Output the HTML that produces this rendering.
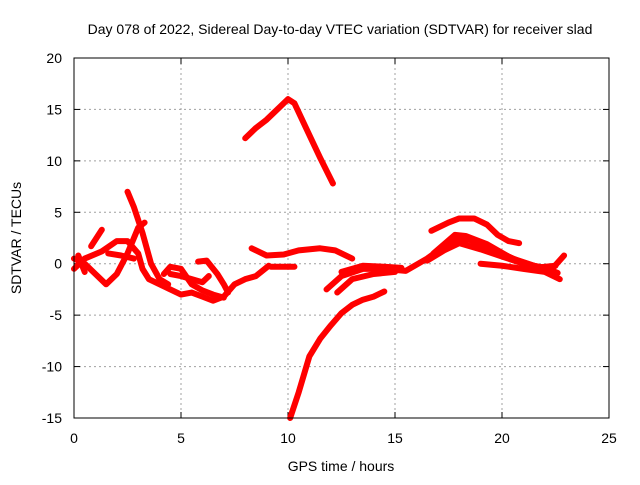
<!DOCTYPE html>
<html><head><meta charset="utf-8"><style>
body{margin:0;background:#fff;font-family:"Liberation Sans",sans-serif}
svg text{font-family:"Liberation Sans",sans-serif;font-size:14px;fill:#000}
</style></head><body>
<svg id="c" width="640" height="480">
<text x="340" y="34" text-anchor="middle">Day 078 of 2022, Sidereal Day-to-day VTEC variation (SDTVAR) for receiver slad</text>
<text x="341" y="471" text-anchor="middle">GPS time / hours</text>
<text transform="translate(21,238) rotate(-90)" text-anchor="middle">SDTVAR / TECUs</text>
<g id="grid"></g><g id="ticks"></g><g id="series"></g>
<rect x="74" y="58" width="535" height="360" fill="none" stroke="#000" stroke-width="1"/>
</svg>
<script>
const xTicks=[0,5,10,15,20,25];
const yTicks=[-15,-10,-5,0,5,10,15,20];
const s1=[[8.0,12.2],[8.5,13.2],[9,14],[9.5,15],[10,16],[10.3,15.6],[11,12.5],[11.5,10.3],[12.1,7.8]];
const s2=[[10.1,-15],[10.5,-12.5],[11,-9],[11.5,-7.3],[12,-6],[12.5,-4.8],[13,-4],[13.5,-3.5],[14,-3.2],[14.5,-2.7]];
const s3=[[16.7,3.2],[17.5,4],[18,4.4],[18.7,4.4],[19.3,3.8],[19.8,2.8],[20.3,2.2],[20.8,2]];
const s4=[[11.8,-2.5],[12.5,-1.2],[13.5,-0.5],[14.5,-0.5],[15.5,-0.7],[16.5,0.5],[17.3,1.7],[18,2.4],[18.5,2.3],[19.5,1.5],[20.5,0.5],[21.5,-0.2],[22.3,-0.6],[22.9,0.8]];
const s5=[[12.3,-2.8],[13,-1.5],[14,-1],[15,-0.8]];
const s6=[[19,0],[20,-0.2],[21,-0.5],[22,-0.8],[22.7,-1.5]];
const s7=[[8.3,1.5],[9,0.8],[9.8,0.9],[10.5,1.3],[11.5,1.5],[12.2,1.3],[13,0.5]];
const s8=[[9.2,-0.3],[10.3,-0.3]];
const s9=[[0,-0.5],[0.5,0.5],[1.3,1.2],[2,2.2],[2.5,2.2],[3,1],[3.2,-0.5],[3.5,-1.5],[4,-2],[4.5,-2.5],[5,-3],[5.5,-2.8],[6,-3.2],[6.5,-3.6],[7,-3.2],[7.5,-2],[8,-1.5],[8.5,-1.2],[9.1,-0.2]];
const s10=[[2.5,7],[2.8,5.5],[3.2,3],[3.6,0],[4,-1.5],[4.4,-2]];
const s11=[[0,0.5],[0.5,0],[1,-1],[1.5,-2],[2,-1],[2.5,1],[3,3.5],[3.3,4]];
const s12=[[4.5,-1],[5,-1.2],[5.5,-1.5],[6,-1.8],[6.3,-1.2]];
const s13=[[4.2,-1],[4.5,-0.3],[5,-0.5],[5.5,-2],[6,-2.6],[6.5,-3],[7,-3.3]];
const s14=[[5.8,0.2],[6.2,0.3],[6.7,-1],[7,-2],[7.2,-2.8]];
const s15=[[0.8,1.7],[1.3,3.3]];
const s16=[[1.6,1],[2.2,0.8],[2.8,0.5]];
const s17=[[0.2,0.8],[0.5,-0.8]];
const s18=[[16.5,0.3],[17.3,1.3],[18,2],[19,1.4],[20,0.7],[21,0],[22,-0.4],[22.6,-0.9]];
const s19=[[12.5,-0.8],[13.5,-0.2],[14.5,-0.3],[15.3,-0.4]];
const s20=[[16.8,1],[17.8,2.8],[18.3,2.7],[19.3,1.9],[20.3,0.7],[21.5,-0.4],[22.5,-0.2]];
const series=[s1,s2,s3,s4,s5,s6,s7,s8,s9,s10,s11,s12,s13,s14,s15,s16,s17,s18,s19,s20];
const X=h=>74+h*535/25, Y=v=>418-(v+15)*360/35;
const NS="http://www.w3.org/2000/svg";
const g=document.getElementById('grid'),t=document.getElementById('ticks'),sg=document.getElementById('series');
function mk(tag,at,par){const e=document.createElementNS(NS,tag);for(const k in at)e.setAttribute(k,at[k]);par.appendChild(e);return e;}
xTicks.forEach(v=>{const x=X(v);
 if(v>0&&v<25){const l=mk('line',{x1:x,x2:x,y1:58,y2:418,stroke:'#a0a0a0','stroke-dasharray':'2,3'},g);
 
 }
 mk('line',{x1:x,x2:x,y1:418,y2:412,stroke:'#000'},t);mk('line',{x1:x,x2:x,y1:58,y2:64,stroke:'#000'},t);
 const tx=mk('text',{x:x,y:443,'text-anchor':'middle'},t);tx.textContent=v;
 
 });
yTicks.forEach(v=>{const y=Y(v);
 if(v>-15&&v<20){const l=mk('line',{x1:74,x2:609,y1:y,y2:y,stroke:'#a0a0a0','stroke-dasharray':'2,3'},g);
 
 }
 mk('line',{x1:74,x2:80,y1:y,y2:y,stroke:'#000'},t);mk('line',{x1:609,x2:603,y1:y,y2:y,stroke:'#000'},t);
 const tx=mk('text',{x:62,y:y+5,'text-anchor':'end'},t);tx.textContent=v;
 
 });
series.forEach((s,i)=>{const p=mk('polyline',{points:s.map(d=>X(d[0])+','+Y(d[1])).join(' '),fill:'none',stroke:'#ff0000','stroke-width':6,'stroke-linejoin':'round','stroke-linecap':'round'},sg);
 
 });
</script>
</body></html>
